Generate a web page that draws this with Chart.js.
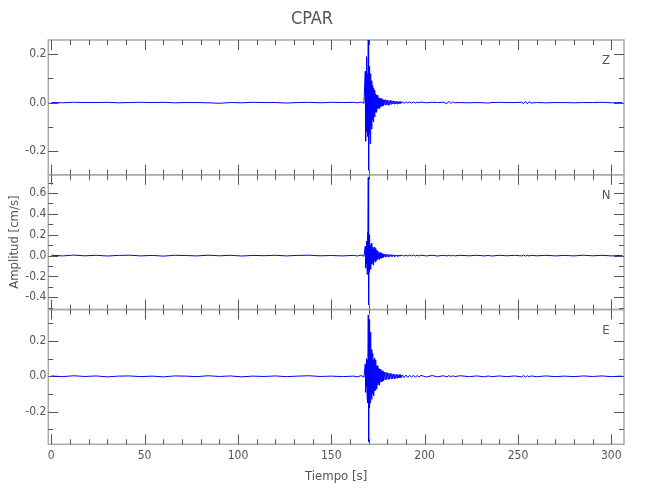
<!DOCTYPE html>
<html>
<head>
<meta charset="utf-8">
<title>CPAR</title>
<script src="https://cdn.jsdelivr.net/npm/chart.js@4.4.1/dist/chart.umd.min.js"></script>
<style>
  body { margin: 0; background: #fff; }
</style>
</head>
<body>
<canvas id="sismo" width="650" height="500"></canvas>
<script>
// Tiempo de cada muestra (s), comun a las tres componentes
const tiempo = [
  0, 6, 12, 18, 24, 30, 36, 42, 48, 54,
  60, 66, 72, 78, 84, 90, 96, 102, 108, 114,
  120, 126, 132, 138, 144, 150, 156, 162,
  164, 166, 167.5,
  168.2, 168.4, 168.6, 168.8, 169, 169.2, 169.4, 169.6, 169.8, 170,
  170.2, 170.4, 170.6, 170.8, 171, 171.2, 171.4, 171.6, 171.8, 172,
  172.2, 172.4, 172.6, 172.8, 173, 173.2, 173.4, 173.6, 173.8, 174,
  174.2, 174.4, 174.6, 174.8, 175, 175.2, 175.4, 175.6, 175.8, 176,
  176.2, 176.4, 176.6, 176.8, 177, 177.2, 177.4, 177.6, 177.8, 178,
  178.4, 178.8, 179.2, 179.6, 180, 180.4, 180.8, 181.2, 181.6, 182,
  182.4, 182.8, 183.2, 183.6, 184, 184.4, 184.8, 185.2, 185.6, 186,
  186.4, 186.8, 187.2, 187.6, 188,
  189, 190, 191, 192, 193, 194, 195, 196, 197, 198,
  201, 204, 207, 210, 212, 213, 214, 215, 216, 219,
  224, 228, 232, 234, 236, 240, 244, 248, 252, 253,
  254, 255, 256, 257, 260, 265, 270, 275, 280, 285,
  290, 295, 300, 305, 306
];

// Amplitud [cm/s] - componente Z
const ampZ = [
  0.000, -0.001, 0.001, 0.000, 0.000, 0.001, -0.001, 0.000, 0.001, 0.000,
  0.001, -0.001, 0.000, 0.000, -0.001, -0.003, 0.000, -0.001, 0.001, 0.000,
  0.000, -0.002, 0.000, 0.001, -0.001, 0.001, 0.000, 0.001,
  -0.001, 0.002, -0.003,
  0.13, -0.16, 0.09, -0.12, 0.19, -0.09, 0.12, -0.14, 0.26, -0.28,
  0.15, -0.13, 0.14, -0.17, 0.12, -0.10, 0.09, -0.11, 0.08, -0.07,
  0.07, -0.08, 0.06, -0.05, 0.05, -0.06, 0.045, -0.04, 0.035, -0.04,
  0.03, -0.035, 0.03, -0.025, 0.03, -0.022, 0.02, -0.025, 0.018, -0.02,
  0.016, -0.018, 0.015, -0.014, 0.017, -0.012, 0.013, -0.014, 0.011, -0.012,
  0.011, -0.010, 0.012, -0.009, 0.010, -0.011, 0.008, -0.009, 0.009, -0.007,
  0.008, -0.006, 0.007, -0.006, 0.006, -0.005, 0.005, -0.006, 0.004, -0.005,
  0.004, -0.004, 0.004, -0.003, 0.003,
  -0.003, 0.003, -0.002, 0.003, -0.002, 0.002, -0.002, 0.002, -0.001, 0.002,
  -0.001, 0.001, 0.000, 0.001, -0.004, 0.005, -0.004, 0.003, -0.001, 0.000,
  -0.001, 0.000, -0.001, -0.002, 0.000, 0.001, 0.000, 0.000, 0.001, -0.004,
  0.005, -0.005, 0.004, -0.002, 0.000, -0.001, 0.000, 0.000, -0.001, 0.000,
  0.000, 0.001, -0.001, 0.000, 0.000
];

// Amplitud [cm/s] - componente N
const ampN = [
  0.004, -0.003, 0.005, -0.002, 0.003, -0.004, 0.002, 0.004, -0.003, 0.002,
  -0.005, 0.003, 0.001, -0.003, 0.004, -0.002, 0.003, -0.004, 0.002, -0.001,
  0.003, -0.003, 0.002, 0.004, -0.002, 0.001, -0.003, 0.002,
  -0.004, 0.005, -0.006,
  0.09, -0.12, 0.05, -0.08, 0.14, -0.18, 0.22, -0.14, 0.75, -0.47,
  0.20, -0.16, 0.17, -0.12, 0.10, -0.13, 0.11, -0.08, 0.12, -0.07,
  0.08, -0.09, 0.06, -0.07, 0.08, -0.05, 0.05, -0.06, 0.07, -0.04,
  0.05, -0.045, 0.04, -0.035, 0.045, -0.03, 0.03, -0.035, 0.025, -0.03,
  0.03, -0.022, 0.02, -0.025, 0.022, -0.018, 0.02, -0.017, 0.015, -0.016,
  0.015, -0.013, 0.014, -0.012, 0.011, -0.012, 0.010, -0.009, 0.010, -0.008,
  0.009, -0.008, 0.007, -0.008, 0.007, -0.006, 0.006, -0.007, 0.005, -0.006,
  0.006, -0.005, 0.005, -0.004, 0.005,
  -0.005, 0.004, -0.004, 0.005, -0.003, 0.004, -0.004, 0.003, -0.003, 0.004,
  -0.003, 0.003, -0.004, 0.003, -0.003, 0.004, -0.003, 0.002, -0.003, 0.003,
  -0.002, 0.003, -0.003, 0.002, -0.004, 0.003, -0.002, 0.003, -0.003, 0.005,
  -0.005, 0.004, -0.004, 0.003, -0.002, 0.003, -0.003, 0.002, -0.003, 0.004,
  -0.002, 0.003, -0.003, 0.002, 0.000
];

// Amplitud [cm/s] - componente E
const ampE = [
  0.002, -0.002, 0.003, -0.001, 0.002, -0.003, 0.001, 0.002, -0.002, 0.001,
  -0.003, 0.002, 0.001, -0.002, 0.003, -0.001, 0.002, -0.003, 0.001, -0.001,
  0.002, -0.002, 0.001, 0.003, -0.001, 0.001, -0.002, 0.001,
  -0.003, 0.004, -0.005,
  0.07, -0.09, 0.05, -0.06, 0.10, -0.12, 0.09, -0.15, 0.345, -0.37,
  0.32, -0.18, 0.20, -0.15, 0.25, -0.12, 0.15, -0.13, 0.11, -0.10,
  0.13, -0.09, 0.09, -0.11, 0.10, -0.08, 0.07, -0.08, 0.09, -0.06,
  0.06, -0.07, 0.05, -0.05, 0.06, -0.04, 0.045, -0.05, 0.04, -0.035,
  0.04, -0.03, 0.035, -0.03, 0.03, -0.028, 0.032, -0.025, 0.026, -0.024,
  0.022, -0.020, 0.024, -0.018, 0.020, -0.017, 0.018, -0.015, 0.016, -0.014,
  0.015, -0.013, 0.012, -0.013, 0.012, -0.011, 0.010, -0.011, 0.010, -0.009,
  0.009, -0.008, 0.009, -0.007, 0.008,
  -0.007, 0.007, -0.006, 0.006, -0.005, 0.006, -0.005, 0.004, -0.004, 0.005,
  -0.004, 0.004, -0.003, 0.003, -0.003, 0.004, -0.003, 0.003, -0.002, 0.003,
  -0.002, 0.002, -0.003, 0.002, -0.002, 0.002, -0.002, 0.002, -0.003, 0.004,
  -0.004, 0.003, -0.003, 0.002, -0.002, 0.002, -0.002, 0.001, -0.002, 0.002,
  -0.001, 0.002, -0.002, 0.001, 0.000
];

const componentes = ['Z', 'N', 'E'];
const marcasX = [0, 50, 100, 150, 200, 250, 300];
const marcasZ = [-0.2, 0, 0.2];
const marcasN = [-0.4, -0.2, 0, 0.2, 0.4, 0.6];
const marcasE = [-0.2, 0, 0.2];

const fuente = "'Liberation Sans Narrow', 'DejaVu Sans Condensed', sans-serif";
Chart.defaults.font.family = fuente;
Chart.defaults.color = '#555';

// Eje vertical de un panel (los tres se apilan a la izquierda)
function ejeY(min, max, marcas, titulo) {
    return {
        type: 'linear',
        position: 'left',
        stack: 'sismo',
        stackWeight: 1,
        min: min,
        max: max,
        afterBuildTicks: s => { s.ticks = marcas.map(v => ({ value: v })); },
        afterFit: s => { s.width = 48.3; },
        grid: { display: false, drawTicks: false },
        border: { display: false },
        ticks: { padding: 2, autoSkip: false, font: { size: 12 }, callback: v => v.toFixed(1) },
        title: titulo
            ? { display: true, text: titulo, font: { size: 13 }, padding: { top: 7, bottom: 0 } }
            : { display: false }
    };
}

// Marco gris, marcas interiores y nombre de la componente en cada panel
const marcoPaneles = {
    id: 'marcoPaneles',
    beforeDatasetsDraw(chart) {
        const { ctx, chartArea: area, scales } = chart;
        const x = scales.x;
        ctx.save();
        ['yZ', 'yN', 'yE'].forEach((id, i) => {
            const y = scales[id];
            ctx.strokeStyle = '#aaaaaa';
            ctx.lineWidth = 1.5;
            ctx.strokeRect(area.left, y.top, area.right - area.left, y.bottom - y.top);

            ctx.strokeStyle = '#555';
            ctx.lineWidth = 1;
            ctx.beginPath();
            for (let t = 0; t <= x.max; t += 10) {
                const px = Math.round(x.getPixelForValue(t)) + 0.5;
                const len = t % 50 === 0 ? 10 : 5;
                ctx.moveTo(px, y.top); ctx.lineTo(px, y.top + len);
                ctx.moveTo(px, y.bottom); ctx.lineTo(px, y.bottom - len);
            }
            for (let k = Math.ceil(y.min * 10); k <= Math.floor(y.max * 10); k++) {
                const py = Math.round(y.getPixelForValue(k / 10)) + 0.5;
                const len = k % 2 === 0 ? 10 : 5;
                ctx.moveTo(area.left, py); ctx.lineTo(area.left + len, py);
                ctx.moveTo(area.right, py); ctx.lineTo(area.right - len, py);
            }
            ctx.stroke();

            ctx.fillStyle = '#555';
            ctx.font = '13px ' + fuente;
            ctx.textAlign = 'center';
            ctx.textBaseline = 'middle';
            ctx.fillText(componentes[i], area.right - 18, y.top + 21);
        });
        ctx.restore();
    }
};

const trazas = [ampZ, ampN, ampE];
const ejes = ['yZ', 'yN', 'yE'];

new Chart(document.getElementById('sismo'), {
    type: 'line',
    data: {
        datasets: componentes.map((c, i) => ({
            label: c,
            yAxisID: ejes[i],
            data: tiempo.map((t, k) => ({ x: t, y: trazas[i][k] })),
            borderColor: '#0000ff',
            borderWidth: 1,
            pointRadius: 0,
            tension: 0,
            fill: false
        }))
    },
    options: {
        responsive: false,
        animation: false,
        events: [],
        layout: { padding: { left: 0, right: 26, top: 0, bottom: 0 } },
        plugins: {
            legend: { display: false },
            tooltip: { enabled: false },
            title: {
                display: true,
                text: 'CPAR',
                color: '#555',
                font: { size: 18, weight: 'normal' },
                padding: { top: 9, bottom: 9.4 }
            }
        },
        scales: {
            x: {
                type: 'linear',
                min: -1.6,
                max: 306.8,
                afterBuildTicks: s => { s.ticks = marcasX.map(v => ({ value: v })); },
                afterFit: s => { s.height = 55.7; },
                grid: { display: false, drawTicks: false },
                border: { display: false },
                ticks: { padding: 4, font: { size: 12 }, maxRotation: 0, autoSkip: false, callback: v => String(v) },
                title: { display: true, text: 'Tiempo [s]', font: { size: 13 }, padding: { top: 16, bottom: 16 } }
            },
            yE: ejeY(-0.384, 0.377, marcasE),
            yN: ejeY(-0.517, 0.775, marcasN, 'Amplitud [cm/s]'),
            yZ: ejeY(-0.299, 0.259, marcasZ)
        }
    },
    plugins: [marcoPaneles]
});
</script>
</body>
</html>
